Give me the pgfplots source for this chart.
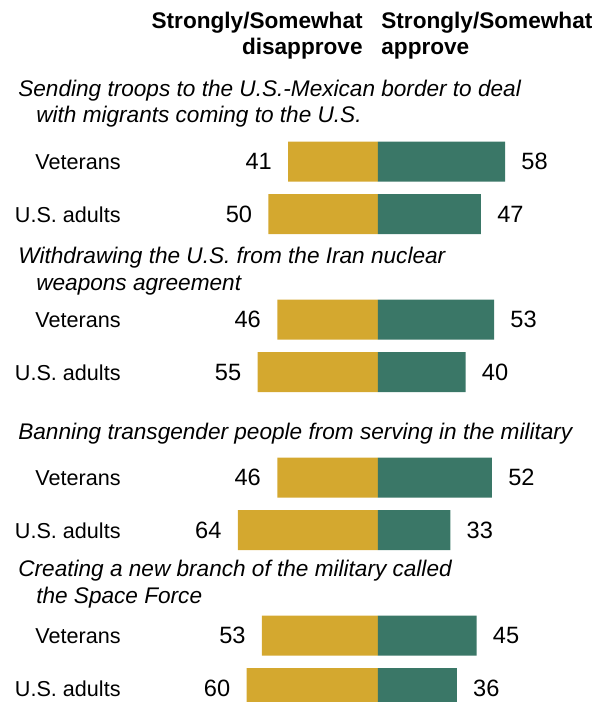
\documentclass[border=0pt]{standalone}
\usepackage{fontspec}
\setmainfont{Liberation Sans}
\usepackage{pgfplots}
\usepackage{pgfplotstable}
\pgfplotsset{compat=1.18}
\definecolor{goldC}{HTML}{D4A82F}
\definecolor{apprC}{HTML}{3A7767}
\newcommand{\lab}{\fontsize{10.8}{13}\selectfont}
\newcommand{\num}{\fontsize{11.8}{13}\selectfont}
\newcommand{\ttl}{\fontsize{11.3}{13}\selectfont\itshape}
\newcommand{\hdr}{\fontsize{11.3}{13}\selectfont\bfseries}
\pgfplotstableread{
y dis app
161.5 41 58
214 50 47
319.5 46 53
372 55 40
477.5 46 52
530 64 33
635.5 53 45
688 60 36
}\data
\begin{document}
\begin{tikzpicture}
\begin{axis}[
  scale only axis, width=300.5pt, height=351pt,
  xmin=-172.6, xmax=101.83, ymin=0, ymax=702, y dir=reverse,
  hide axis, xbar, bar width=40, bar shift=0pt,
  nodes near coords, point meta=explicit,
  /pgf/number format/assume math mode=true,
  every node near coord/.style={font=\num, inner sep=0pt, text=black},
]
\addplot[draw=none, fill=goldC, every node near coord/.append style={anchor=east, xshift=-8pt}]
  table[x expr=-\thisrow{dis}, y=y, meta=dis] {\data};
\addplot[draw=none, fill=apprC, every node near coord/.append style={anchor=west, xshift=8pt}]
  table[x=app, y=y, meta=app] {\data};

% header
\node[anchor=base east, font=\hdr, inner sep=0pt] at (axis cs:-6.85,28) {Strongly/Somewhat};
\node[anchor=base east, font=\hdr, inner sep=0pt] at (axis cs:-6.85,54) {disapprove};
\node[anchor=base west, font=\hdr, inner sep=0pt] at (axis cs:1.37,28) {Strongly/Somewhat};
\node[anchor=base west, font=\hdr, inner sep=0pt] at (axis cs:1.37,54) {approve};

% titles
\node[anchor=base west, font=\ttl, inner sep=0pt] at (axis cs:-164.4,96) {Sending troops to the U.S.-Mexican border to deal};
\node[anchor=base west, font=\ttl, inner sep=0pt] at (axis cs:-156.2,122) {with migrants coming to the U.S.};
\node[anchor=base west, font=\ttl, inner sep=0pt] at (axis cs:-164.4,263) {Withdrawing the U.S. from the Iran nuclear};
\node[anchor=base west, font=\ttl, inner sep=0pt] at (axis cs:-156.2,290) {weapons agreement};
\node[anchor=base west, font=\ttl, inner sep=0pt] at (axis cs:-164.4,439) {Banning transgender people from serving in the military};
\node[anchor=base west, font=\ttl, inner sep=0pt] at (axis cs:-164.4,576) {Creating a new branch of the military called};
\node[anchor=base west, font=\ttl, inner sep=0pt] at (axis cs:-156.2,603) {the Space Force};

% row labels
\node[anchor=base east, font=\lab, inner sep=0pt] at (axis cs:-117.35,169.5) {Veterans};
\node[anchor=base east, font=\lab, inner sep=0pt] at (axis cs:-117.35,222) {U.S. adults};
\node[anchor=base east, font=\lab, inner sep=0pt] at (axis cs:-117.35,327.5) {Veterans};
\node[anchor=base east, font=\lab, inner sep=0pt] at (axis cs:-117.35,380) {U.S. adults};
\node[anchor=base east, font=\lab, inner sep=0pt] at (axis cs:-117.35,485.5) {Veterans};
\node[anchor=base east, font=\lab, inner sep=0pt] at (axis cs:-117.35,538) {U.S. adults};
\node[anchor=base east, font=\lab, inner sep=0pt] at (axis cs:-117.35,643.5) {Veterans};
\node[anchor=base east, font=\lab, inner sep=0pt] at (axis cs:-117.35,696) {U.S. adults};
\end{axis}
\pgfresetboundingbox
\path[use as bounding box] (current axis.south west) rectangle (current axis.north east);
\end{tikzpicture}
\end{document}
